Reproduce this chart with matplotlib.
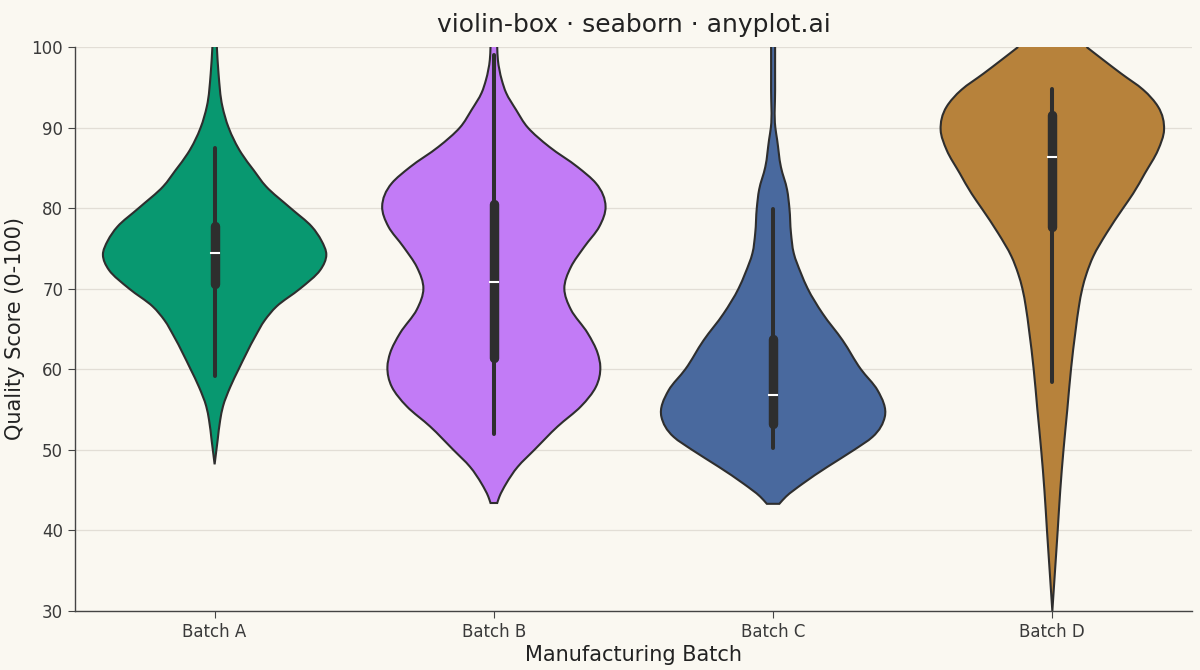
import numpy as np
import matplotlib.pyplot as plt
from matplotlib.path import Path
from matplotlib.patches import PathPatch

# categories and colours
batches = ["Batch A", "Batch B", "Batch C", "Batch D"]
colors = ["#089870", "#C27BF6", "#49699E", "#B7823B"]

# violin outlines: score levels and relative density (1 = widest point)
levels_a = [48.2, 51.2, 53.7, 55.4, 57.8, 60, 64.1, 66.1, 67.8, 70, 72.3, 74.2, 76, 77.7, 80, 82.7, 84.7, 86.8, 90, 92.6, 96.7, 100]
density_a = [0, .027, .05, .075, .14, .215, .365, .45, .555, .765, .945, 1.0, .955, .87, .68, .46, .35, .24, .125, .07, .035, .02]

levels_b = [43.4, 44.2, 45.8, 47.9, 50, 52.9, 55.4, 57.8, 60.3, 62, 64.5, 67.4, 70, 72.7, 75.2, 77.7, 80.2, 83.1, 85.1, 87.6, 90, 92.2, 94.3, 95.9, 98.4, 100]
density_b = [.03, .05, .11, .214, .363, .571, .78, .913, .953, .929, .839, .69, .631, .69, .81, .944, 1.0, .913, .75, .497, .304, .199, .11, .071, .036, .03]

levels_c = [43.3, 44.2, 45.8, 47.9, 50, 51.6, 54.1, 57.4, 60, 63.6, 66.9, 70, 71.9, 74.4, 76.9, 80, 82.3, 85.1, 88.5, 90, 94.7, 100]
density_c = [.056, .116, .265, .488, .726, .89, 1.0, .935, .786, .622, .444, .31, .25, .185, .16, .146, .125, .07, .036, .02, .018, .018]

levels_d = [30, 35, 40, 45, 50, 55, 60, 64.9, 67.8, 70, 71.9, 74, 76.9, 80, 81.8, 84.3, 87.2, 89.7, 92.6, 94.7, 96.7, 98.4, 100]
density_d = [0, .024, .048, .071, .10, .134, .167, .209, .238, .268, .307, .366, .486, .634, .723, .828, .946, 1.0, .946, .8125, .616, .455, .306]

all_levels = [levels_a, levels_b, levels_c, levels_d]
all_density = [density_a, density_b, density_c, density_d]

# inner box stats
whisker_low = [59.2, 52.0, 50.2, 58.4]
q1 = [70.6, 61.4, 53.2, 77.6]
median = [74.4, 70.8, 56.8, 86.3]
q3 = [77.8, 80.5, 63.8, 91.6]
whisker_high = [87.4, 99.0, 79.9, 94.8]

BG = "#FAF8F1"
INK = "#2E2E2E"


def side_curve(xs, ys):
    # smooth x(y) through the points: cubic hermite written as beziers
    xs = np.asarray(xs, dtype=float)
    ys = np.asarray(ys, dtype=float)
    n = len(xs)
    h = np.diff(ys)
    d = np.diff(xs) / h
    m = np.zeros(n)
    m[0], m[-1] = d[0], d[-1]
    for i in range(1, n - 1):
        m[i] = (d[i - 1] * h[i] + d[i] * h[i - 1]) / (h[i - 1] + h[i])
    verts = []
    for i in range(n - 1):
        verts += [(xs[i] + m[i] * h[i] / 3, ys[i] + h[i] / 3),
                  (xs[i + 1] - m[i + 1] * h[i] / 3, ys[i + 1] - h[i] / 3),
                  (xs[i + 1], ys[i + 1])]
    return verts


def violin_paths(x, y, rel, half=0.4):
    y = np.asarray(y, dtype=float)
    w = np.asarray(rel, dtype=float) * half
    # right side drawn top -> bottom, left side bottom -> top
    right = side_curve((x + w)[::-1], y[::-1])
    left = side_curve(x - w, y)
    verts = [(x + w[-1], y[-1])] + right
    codes = [Path.MOVETO] + [Path.CURVE4] * len(right)
    if w[0] > 0:
        verts.append((x - w[0], y[0]))
        codes.append(Path.LINETO)
    verts += left
    codes += [Path.CURVE4] * len(left)
    outline = Path(verts, codes)
    filled = Path(verts + [verts[0]], codes + [Path.CLOSEPOLY])
    return filled, outline


fig, ax = plt.subplots(figsize=(12, 6.7), dpi=100)
fig.patch.set_facecolor(BG)
ax.set_facecolor(BG)
fig.subplots_adjust(left=0.0625, right=0.9933, top=0.9299, bottom=0.0881)

for i, (lv, dn) in enumerate(zip(all_levels, all_density)):
    filled, outline = violin_paths(i, lv, dn)
    ax.add_patch(PathPatch(filled, facecolor=colors[i], edgecolor="none", zorder=2))
    ax.add_patch(PathPatch(outline, facecolor="none", edgecolor=INK, lw=1.5, zorder=3))
    ax.plot([i, i], [whisker_low[i], whisker_high[i]], color=INK, lw=2.9,
            solid_capstyle="round", zorder=4)
    ax.plot([i, i], [q1[i], q3[i]], color=INK, lw=6.8,
            solid_capstyle="round", zorder=5)
    ax.plot([i - 0.014, i + 0.014], [median[i], median[i]], color="white", lw=1.5, zorder=6)

ax.set_xlim(-0.5, 3.5)
ax.set_ylim(30, 100)
ax.set_xticks(range(len(batches)))
ax.set_xticklabels(batches)
ax.set_yticks([30, 40, 50, 60, 70, 80, 90, 100])

ax.grid(axis="y", color="#E2DED6", lw=0.9)
ax.set_axisbelow(True)
for s in ["top", "right"]:
    ax.spines[s].set_visible(False)
for s in ["left", "bottom"]:
    ax.spines[s].set_color("#444444")
    ax.spines[s].set_linewidth(1.0)
ax.tick_params(colors="#444444", labelsize=12, length=5, width=0.8)
ax.tick_params(labelcolor="#3A3A3A")

ax.set_title("violin-box · seaborn · anyplot.ai", fontsize=18, color="#222222", pad=11)
ax.set_xlabel("Manufacturing Batch", fontsize=15, color="#222222", labelpad=3)
ax.set_ylabel("Quality Score (0-100)", fontsize=15, color="#222222", labelpad=5)

plt.savefig("out.png", dpi=100, facecolor=BG)
